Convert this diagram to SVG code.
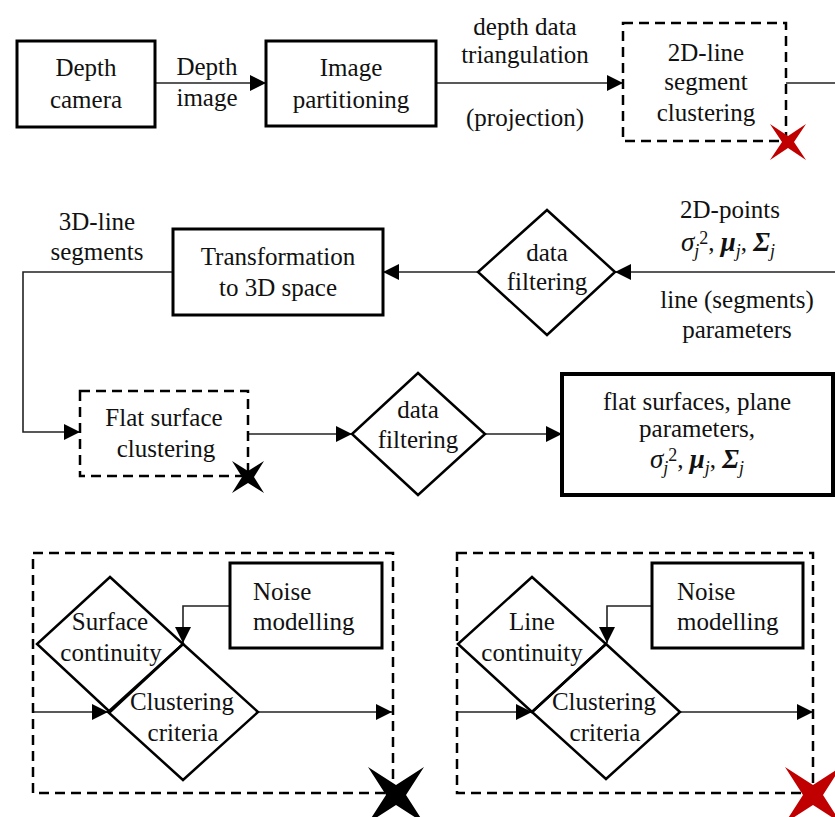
<svg xmlns="http://www.w3.org/2000/svg" width="835" height="817" viewBox="0 0 835 817" font-family="'Liberation Serif', 'DejaVu Serif', serif">
<defs>
<style>
text{font-family:'Liberation Serif','DejaVu Serif',serif;font-size:25px;fill:#111;}
.c{text-anchor:middle;}
.box{fill:#fff;stroke:#000;stroke-width:3;}
.thick{fill:#fff;stroke:#000;stroke-width:4;}
.dash{fill:none;stroke:#000;stroke-width:2.5;stroke-dasharray:10 6;}
.dia{fill:none;stroke:#000;stroke-width:2.5;}
.ln{fill:none;stroke:#222;stroke-width:1.6;}
.arr{fill:none;stroke:#222;stroke-width:1.6;marker-end:url(#ah);}
.red{fill:#c00000;}
.blk{fill:#000;}
.it{font-style:italic;font-size:27px;}
.bi{font-style:italic;font-weight:bold;font-size:27px;}
.sub{font-style:italic;font-size:18px;}
.sup{font-size:18px;}
</style>
<marker id="ah" markerUnits="userSpaceOnUse" markerWidth="16" markerHeight="16" refX="16" refY="8" orient="auto">
<path d="M0,0 L16,8 L0,16 Z" fill="#000"/>
</marker>
</defs>

<g id="connectors">
<line class="arr" x1="155" y1="83" x2="266" y2="83"/>
<line class="arr" x1="436" y1="83" x2="623" y2="83"/>
<line class="ln" x1="786" y1="83" x2="835" y2="83"/>
<line class="arr" x1="835" y1="272" x2="615" y2="272"/>
<line class="arr" x1="478" y1="272" x2="383" y2="272"/>
<polyline class="arr" points="173,272 23,272 23,432 80,432"/>
<line class="arr" x1="248" y1="434" x2="352" y2="434"/>
<line class="arr" x1="485" y1="434" x2="562" y2="434"/>
<line class="arr" x1="33" y1="712" x2="108" y2="712"/>
<line class="arr" x1="258" y1="712" x2="392" y2="712"/>
<polyline class="arr" points="230,606 183,606 183,643"/>
<line class="arr" x1="457" y1="712" x2="532" y2="712"/>
<line class="arr" x1="680" y1="712" x2="813" y2="712"/>
<polyline class="arr" points="652,606 607,606 607,643"/>
</g>

<g id="depth-camera">
<rect class="box" x="17" y="41" width="138" height="86"/>
<text class="c" x="86" y="76">Depth</text>
<text class="c" x="86" y="108">camera</text>
</g>

<g id="label-depth-image">
<text class="c" x="207" y="75">Depth</text>
<text class="c" x="207" y="106">image</text>
</g>

<g id="image-partitioning">
<rect class="box" x="266" y="41" width="170" height="85"/>
<text class="c" x="351" y="76">Image</text>
<text class="c" x="351" y="108">partitioning</text>
</g>

<g id="label-triangulation">
<text class="c" x="525" y="35">depth data</text>
<text class="c" x="525" y="63">triangulation</text>
<text class="c" x="525" y="126">(projection)</text>
</g>

<g id="line-segment-clustering">
<rect class="dash" x="623" y="23" width="163" height="118"/>
<text class="c" x="706" y="61">2D-line</text>
<text class="c" x="706" y="90">segment</text>
<text class="c" x="706" y="121">clustering</text>
<path class="red" d="M770,124 L788,136 L806,124 L794,142 L806,160 L788,148 L770,160 L782,142 Z"/>
</g>

<g id="label-2d-points">
<text class="c" x="730" y="218">2D-points</text>
<text class="c" x="728" y="251"><tspan class="it">σ</tspan><tspan class="sub" dy="6">j</tspan><tspan class="sup" dx="0" dy="-13">2</tspan><tspan dy="7">, </tspan><tspan class="bi">μ</tspan><tspan class="sub" dy="6">j</tspan><tspan dy="-6">, </tspan><tspan class="bi">Σ</tspan><tspan class="sub" dy="6">j</tspan></text>
<text class="c" x="737" y="308">line (segments)</text>
<text class="c" x="737" y="338">parameters</text>
</g>

<g id="data-filtering-1">
<polygon class="dia" points="547,210 615,272 547,335 478,272"/>
<text class="c" x="547" y="261">data</text>
<text class="c" x="547" y="290">filtering</text>
</g>

<g id="transformation">
<rect class="box" x="173" y="229" width="210" height="86"/>
<text class="c" x="278" y="265">Transformation</text>
<text class="c" x="278" y="296">to 3D space</text>
</g>

<g id="label-3d-line">
<text class="c" x="97" y="230">3D-line</text>
<text class="c" x="97" y="260">segments</text>
</g>

<g id="flat-surface-clustering">
<rect class="dash" x="80" y="391" width="168" height="85"/>
<text class="c" x="164" y="426">Flat surface</text>
<text class="c" x="166" y="457">clustering</text>
<path class="blk" d="M232,461 L248,471 L264,461 L254,477 L264,493 L248,483 L232,493 L242,477 Z"/>
</g>

<g id="data-filtering-2">
<polygon class="dia" points="418,373 485,434 418,495 352,434"/>
<text class="c" x="418" y="418">data</text>
<text class="c" x="418" y="448">filtering</text>
</g>

<g id="flat-surfaces-result">
<rect class="thick" x="562" y="374" width="271" height="121"/>
<text class="c" x="697" y="410">flat surfaces, plane</text>
<text class="c" x="697" y="437">parameters,</text>
<text class="c" x="697" y="468"><tspan class="it">σ</tspan><tspan class="sub" dy="6">j</tspan><tspan class="sup" dx="0" dy="-13">2</tspan><tspan dy="7">, </tspan><tspan class="bi">μ</tspan><tspan class="sub" dy="6">j</tspan><tspan dy="-6">, </tspan><tspan class="bi">Σ</tspan><tspan class="sub" dy="6">j</tspan></text>
</g>

<g id="surface-panel">
<rect class="dash" x="33" y="553" width="360" height="240"/>
<path class="blk" d="M368,767 L396,785 L424,767 L406,795 L424,823 L396,805 L368,823 L386,795 Z"/>
</g>

<g id="noise-modelling-1">
<rect class="box" x="230" y="563" width="152" height="85"/>
<text x="253" y="600">Noise</text>
<text x="253" y="630">modelling</text>
</g>

<g id="surface-continuity">
<polygon class="dia" points="110,577 183,644 110,712 37,644"/>
<text class="c" x="110" y="630">Surface</text>
<text class="c" x="111" y="661">continuity</text>
</g>

<g id="clustering-criteria-1">
<polygon class="dia" points="183,644 258,712 183,780 108,712"/>
<text class="c" x="182" y="710">Clustering</text>
<text class="c" x="183" y="741">criteria</text>
</g>

<g id="line-panel">
<rect class="dash" x="457" y="553" width="356" height="240"/>
<path class="red" d="M785,767 L813,785 L841,767 L823,795 L841,823 L813,805 L785,823 L803,795 Z"/>
</g>

<g id="noise-modelling-2">
<rect class="box" x="652" y="563" width="151" height="85"/>
<text x="677" y="600">Noise</text>
<text x="677" y="630">modelling</text>
</g>

<g id="line-continuity">
<polygon class="dia" points="532,577 606,644 532,712 458,644"/>
<text class="c" x="532" y="630">Line</text>
<text class="c" x="532" y="661">continuity</text>
</g>

<g id="clustering-criteria-2">
<polygon class="dia" points="606,644 680,712 606,779 532,712"/>
<text class="c" x="604" y="710">Clustering</text>
<text class="c" x="605" y="741">criteria</text>
</g>
</svg>
